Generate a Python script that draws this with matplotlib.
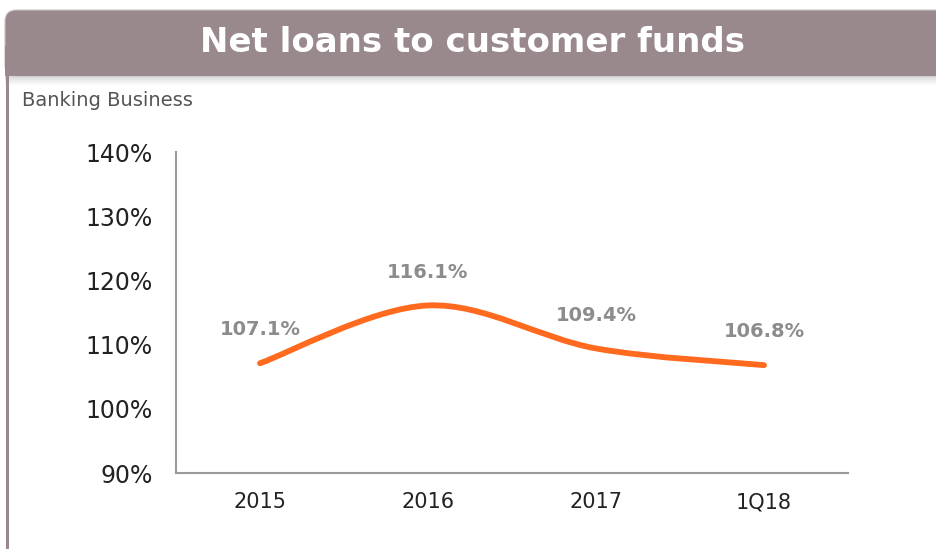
import numpy as np
import matplotlib.pyplot as plt
from matplotlib.patches import FancyBboxPatch, Rectangle, PathPatch
from matplotlib.path import Path

periods = ['2015', '2016', '2017', '1Q18']
ratio = [107.1, 116.1, 109.4, 106.8]
labels = ['107.1%', '116.1%', '109.4%', '106.8%']
yticks = [90, 100, 110, 120, 130, 140]

header_col = '#9a898c'
orange = '#ff6a1f'

plt.rcParams['font.family'] = ['DejaVu Sans']

fig = plt.figure(figsize=(9.37, 5.49), dpi=100)
W, H = 937, 549

# header bar with soft shadow
for i in range(10):
    fig.patches.append(Rectangle((5 / W, (H - 76 - i) / H), 1, 1 / H,
                                 transform=fig.transFigure, color='#000000',
                                 alpha=0.16 * (1 - i / 10), lw=0))
fig.patches.append(FancyBboxPatch((5 / W, (H - 76) / H), 1.05, 66 / H,
                                  boxstyle='round,pad=0,rounding_size=0.012',
                                  transform=fig.transFigure, fc=header_col, ec='#c9c2c3', lw=0.8,
                                  mutation_aspect=W / H))
fig.patches.append(Rectangle((5 / W, (H - 76) / H), 1, 30 / H,
                             transform=fig.transFigure, fc=header_col, lw=0))
fig.text(473 / W, 1 - 43 / H, 'Net loans to customer funds', color='white',
         fontsize=24.5, fontweight='bold', ha='center', va='center')

# left border
fig.patches.append(Rectangle((6 / W, 0), 3 / W, (H - 76) / H,
                             transform=fig.transFigure, fc=header_col, lw=0))
fig.text(22 / W, 1 - 100 / H, 'Banking Business', color='#555555', fontsize=14,
         ha='left', va='center')

ax = fig.add_axes([176 / W, 1 - 473 / H, 672 / W, 321 / H])
x = np.arange(len(periods))
y = np.array(ratio)

# smooth line (Catmull-Rom -> cubic bezier)
verts = [(x[0], y[0])]
codes = [Path.MOVETO]
px = np.concatenate([[x[0]], x, [x[-1]]])
py = np.concatenate([[y[0]], y, [y[-1]]])
for i in range(1, len(px) - 2):
    c1 = (px[i] + (px[i + 1] - px[i - 1]) / 6, py[i] + (py[i + 1] - py[i - 1]) / 6)
    c2 = (px[i + 1] - (px[i + 2] - px[i]) / 6, py[i + 1] - (py[i + 2] - py[i]) / 6)
    verts += [c1, c2, (px[i + 1], py[i + 1])]
    codes += [Path.CURVE4] * 3
ax.add_patch(PathPatch(Path(verts, codes), fc='none', ec=orange, lw=4.2, capstyle='round'))

for xi, yi, lab in zip(x, y, labels):
    ax.annotate(lab, (xi, yi), xytext=(0, 24), textcoords='offset points',
                ha='center', va='center', fontsize=14, fontweight='bold', color='#8c8c8c')

ax.set_xlim(-0.5, 3.5)
ax.set_ylim(90, 140)
ax.set_yticks(yticks)
ax.set_yticklabels([f'{v}%' for v in yticks])
ax.set_xticks(x)
ax.set_xticklabels(periods)
ax.tick_params(length=0, colors='#222222')
ax.tick_params(axis='y', pad=17, labelsize=17)
ax.tick_params(axis='x', pad=14, labelsize=15)
for s in ['top', 'right']:
    ax.spines[s].set_visible(False)
for s in ['left', 'bottom']:
    ax.spines[s].set_color('#9a9a9a')
    ax.spines[s].set_linewidth(1.5)

fig.savefig('out.png', dpi=100)
